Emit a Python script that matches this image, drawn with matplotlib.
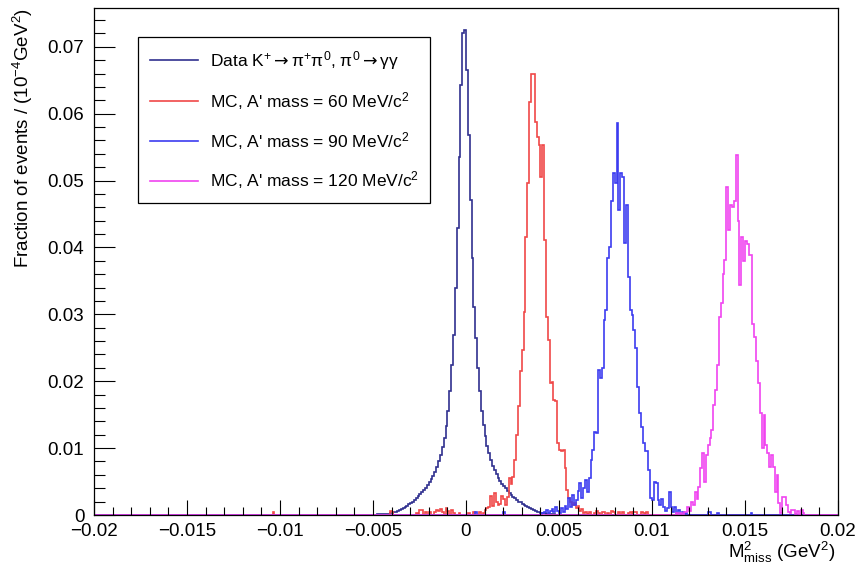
import numpy as np
import matplotlib
matplotlib.use("Agg")
import matplotlib.pyplot as plt
from matplotlib.lines import Line2D
from matplotlib.ticker import MultipleLocator

plt.rcParams['font.family'] = ['Liberation Sans', 'DejaVu Sans']
plt.rcParams['mathtext.fontset'] = 'custom'
plt.rcParams['mathtext.rm'] = 'Liberation Sans'
plt.rcParams['mathtext.it'] = 'Liberation Sans:italic'
plt.rcParams['mathtext.sf'] = 'DejaVu Sans'

# 400 bins of 1e-4 GeV^2 between -0.02 and 0.02
edges = np.linspace(-0.02, 0.02, 401)

# fraction of events per bin (x 1e-3); first entry is the bin starting at start*1e-4 GeV^2
data_start = -50
data_vals = [0.05, 0.05, 0.08, 0.08, 0.1, 0.1, 0.12, 0.15, 0.2, 0.25,
             0.3, 0.4, 0.5, 0.6, 0.7, 0.85, 1.0, 1.2, 1.4, 1.6,
             1.8, 2.0, 2.2, 2.5, 2.8, 3.1, 3.4, 3.8, 4.1, 4.5,
             4.9, 5.4, 5.9, 6.5, 7.2, 8.0, 9.0, 10.2, 11.5, 13.3,
             15.5, 18.5, 22.5, 26.9, 33.9, 42.9, 53.5, 64.3, 72.0, 72.5,
             66.5, 56.8, 47.1, 38.4, 31.1, 26.5, 22.0, 18.5, 15.5, 13.5,
             11.8, 10.3, 9.2, 8.2, 7.4, 6.8, 6.1, 5.6, 5.1, 4.7,
             4.3, 4.0, 3.6, 3.3, 3.0, 2.7, 2.5, 2.2, 2.0, 1.9,
             1.7, 1.5, 1.3, 1.15, 1.0, 0.85, 0.75, 0.6, 0.5, 0.4,
             0.35, 0.3, 0.25, 0.2, 0.15, 0.12, 0.1, 0.08, 0.06, 0.05,
             0.03]

mc60_start = -42
mc60_vals = [0, 0.6, 0.4, 0, 0, 0, 0, 0, 0, 0,
             0, 0, 0, 0, 0, 0.3, 0, 0.8, 0.8, 0,
             0.5, 0, 0.5, 0, 0, 0.4, 0.8, 0.6, 0.9, 0.5,
             0, 1.0, 0.6, 0, 0.8, 0.3, 0, 0, 0.3, 0,
             0, 0,
             0, 0.3, 0, 0, 0.4, 0, 0, 0.5, 0, 0.3,
             0.8, 1.0, 1.2, 2.8, 1.4, 3.3, 2.0, 1.5, 1.6, 2.8,
             2.4, 1.5, 2.7, 5.6, 4.7, 5.7, 8.2, 12.0, 16.3, 21.5,
             24.7, 30.4, 41.6, 49.6, 61.8, 65.9, 65.9, 58.8, 56.5, 55.3,
             50.6, 55.3, 41.1, 29.6, 26.2, 19.7, 19.9, 17.2, 17.0, 10.7,
             9.7, 9.6, 9.7, 7.0, 3.7, 2.5, 2.0, 1.5, 1.8, 1.0,
             1.3, 0.6, 0.9, 0.3, 0.5, 0.2, 0.4, 0, 0, 0.3,
             0.6, 0.3, 0, 0.5, 0.5, 0, 0.3, 0, 0.6, 0.4,
             0, 0, 0.4, 0, 0.5, 0, 0, 0.3, 0.5, 0,
             0.4, 0.4, 0, 0, 0.5, 0.3, 0, 0.4, 0]
mc60_extra = {-104: 0.5}

mc90_start = 0
mc90_vals = [0, 0, 0, 0, 0, 0.4, 0, 0, 0, 0,
             0, 0, 0, 0, 0, 0, 0, 0, 0, 0,
             0.5, 0, 0, 0, 0, 0, 0, 0, 0, 0,
             0, 0, 0, 0, 0, 0, 0, 0, 0, 0,
             0, 0.3, 0.5, 0.8, 0.3, 0.6, 0.9, 0.4, 1.2, 0.6,
             0.3, 1.0, 0.5, 1.4, 0.9, 2.5, 1.2, 3.0, 1.5, 2.2,
             3.6, 4.8, 2.5, 4.0, 5.2, 3.5, 5.5, 8.2, 9.7, 12.4,
             12.2, 21.7, 20.5, 22.0, 29.1, 30.6, 38.4, 40.1, 47.0, 51.1,
             49.6, 58.6, 45.6, 51.1, 50.5, 40.6, 46.3, 35.6, 30.6, 29.9,
             27.7, 25.0, 19.2, 15.2, 13.2, 10.7, 9.5, 9.5, 6.7, 2.5,
             2.3, 5.0, 4.8, 2.2, 1.5, 2.4, 1.2, 0.6, 1.0, 3.4,
             1.2, 0.5, 1.2, 0.3, 0.8, 0.2, 0.5, 0, 0.3, 0,
             0]
mc90_extra = {130: 0.4, 131: 0.4, 135: 0.3, 153: 0.3}

mc120_start = 112
mc120_vals = [0, 0.3, 0, 0.3, 0, 0.4, 0.5, 1.2, 0.6, 2.0,
              1.5, 3.5, 2.4, 4.2, 7.0, 9.3, 5.0, 9.0, 10.5, 11.5,
              12.7, 16.5, 18.7, 22.4, 29.6, 31.7, 36.0, 38.1, 49.1, 42.6,
              46.3, 46.0, 47.0, 53.8, 44.0, 34.4, 41.6, 38.0, 40.9, 40.5,
              38.9, 38.8, 28.6, 26.6, 23.0, 19.8, 15.2, 10.0, 15.0, 10.5,
              9.3, 7.2, 9.0, 7.2, 3.5, 6.0, 1.8, 0.3, 2.7, 2.7,
              1.5, 0.4, 0.3, 0.8, 0.8, 0.2, 0.6, 0, 0.7, 0.3]

labels = [r"Data K$^{+}$$\mathsf{\rightarrow}$π$^{+}$π$^{0}$, π$^{0}$$\mathsf{\rightarrow}$γγ",
          r"MC, A' mass = 60 MeV/c$^{2}$",
          r"MC, A' mass = 90 MeV/c$^{2}$",
          r"MC, A' mass = 120 MeV/c$^{2}$"]
colors = ['#30308f', '#f04848', '#3c3cf0', '#f044f0']


def fill_bins(start, vals, extra=None):
    h = np.zeros(400)
    i0 = start + 200
    h[i0:i0 + len(vals)] = vals
    if extra:
        for k, v in extra.items():
            h[k + 200] = v
    return h * 1e-3


hists = [fill_bins(data_start, data_vals),
         fill_bins(mc60_start, mc60_vals, mc60_extra),
         fill_bins(mc90_start, mc90_vals, mc90_extra),
         fill_bins(mc120_start, mc120_vals)]

fig = plt.figure(figsize=(8.59, 5.67), dpi=100)
ax = fig.add_axes([0.1094, 0.0917, 0.8661, 0.8942])

for h, c in zip(hists, colors):
    ax.stairs(h, edges, color=c, linewidth=1.2, baseline=0)

ax.set_xlim(-0.02, 0.02)
ax.set_ylim(0, 0.0758)

ax.xaxis.set_major_locator(MultipleLocator(0.005))
ax.xaxis.set_minor_locator(MultipleLocator(0.001))
ax.yaxis.set_major_locator(MultipleLocator(0.01))
ax.yaxis.set_minor_locator(MultipleLocator(0.002))
ax.xaxis.set_major_formatter(plt.FuncFormatter(lambda v, p: '0' if abs(v) < 1e-12 else ('%g' % v).replace('-', '−')))
ax.yaxis.set_major_formatter(plt.FuncFormatter(lambda v, p: '0' if abs(v) < 1e-12 else '%g' % v))

ax.tick_params(axis='x', which='major', direction='in', length=11, width=0.8, labelsize=13.5, pad=6, top=False)
ax.tick_params(axis='x', which='minor', direction='in', length=6, width=0.8, top=False)
ax.tick_params(axis='y', which='major', direction='in', length=15, width=0.8, labelsize=13.5, pad=7, right=False)
ax.tick_params(axis='y', which='minor', direction='in', length=8, width=0.8, right=False)
for s in ax.spines.values():
    s.set_linewidth(0.9)

ax.set_xlabel(r"M$^{2}_{\mathrm{miss}}$ (GeV$^{2}$)", fontsize=13.5, loc='right')
ax.xaxis.set_label_coords(0.996, -0.049)
ax.set_ylabel(r"Fraction of events / (10$^{-4}$GeV$^{2}$)", fontsize=13.5, loc='top', labelpad=9)

handles = [Line2D([], [], color=c, linewidth=1.2) for c in colors]
leg = ax.legend(handles, labels, loc='upper left', bbox_to_anchor=(0.059, 0.943),
                fontsize=12.5, frameon=True, fancybox=False, framealpha=1,
                edgecolor='black', borderpad=0.68, labelspacing=1.04,
                handlelength=2.76, handletextpad=0.69, borderaxespad=0)
leg.get_frame().set_linewidth(0.9)

plt.savefig('out.png', dpi=100)
plt.close(fig)
